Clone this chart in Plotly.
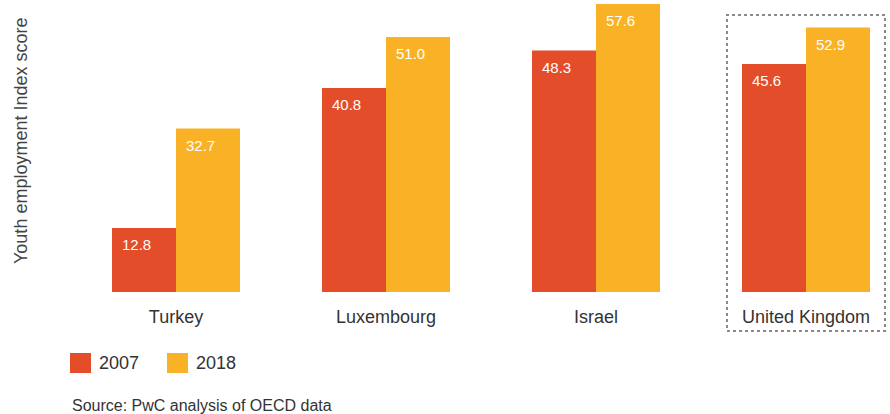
import plotly.graph_objects as go

# Youth employment index scores by country
countries = ["Turkey", "Luxembourg", "Israel", "United Kingdom"]
years = ["2007", "2018"]
score_2007 = [12.8, 40.8, 48.3, 45.6]
score_2018 = [32.7, 51.0, 57.6, 52.9]

RED = "#E34D2A"
ORANGE = "#F9B225"
FONT = "Liberation Sans, Arial, sans-serif"

W, H = 890, 414
L, R, T, B = 71, 0, 0, 122
PW, PH = W - L - R, H - T - B
UNIT = 210.0          # pixels per category
BAR_W = 64 / UNIT     # bar width in category units
X0 = -0.5
X1 = X0 + PW / UNIT
Y1 = 58.4

def px_x(p):
    return (p - L) / PW

def px_y(p):
    return (H - B - p) / PH

xs = list(range(len(countries)))

fig = go.Figure()
fig.add_trace(go.Bar(x=xs, y=score_2007, name=years[0], marker_color=RED,
                     width=BAR_W, offset=-BAR_W, marker_line_width=0))
fig.add_trace(go.Bar(x=xs, y=score_2018, name=years[1], marker_color=ORANGE,
                     width=BAR_W, offset=0, marker_line_width=0))

# value labels in the top-left corner of each bar
annotations = []
for i, (a, b) in enumerate(zip(score_2007, score_2018)):
    for left, v in ((i - BAR_W, a), (i, b)):
        annotations.append(dict(
            x=left, y=v, xref="x", yref="y", text=f"{v:.1f}",
            xanchor="left", yanchor="top", xshift=8, yshift=-6,
            showarrow=False, font=dict(family=FONT, size=15, color="white")))

# axis title
annotations.append(dict(
    x=px_x(21), y=px_y(141), xref="paper", yref="paper",
    text="Youth employment Index score", textangle=-90,
    showarrow=False, xanchor="center", yanchor="middle",
    font=dict(family=FONT, size=18, color="#444")))

# legend
shapes = []
legend_items = [(70, RED, years[0]), (167, ORANGE, years[1])]
for x_left, col, label in legend_items:
    shapes.append(dict(type="rect", xref="paper", yref="paper",
                       x0=px_x(x_left), x1=px_x(x_left + 21),
                       y0=px_y(373), y1=px_y(353),
                       fillcolor=col, line=dict(width=0)))
    annotations.append(dict(
        x=px_x(x_left + 27), y=px_y(363), xref="paper", yref="paper",
        text=label, showarrow=False, xanchor="left", yanchor="middle",
        font=dict(family=FONT, size=18, color="#333")))

# source note
annotations.append(dict(
    x=px_x(70), y=px_y(405), xref="paper", yref="paper",
    text="Source: PwC analysis of OECD data", showarrow=False,
    xanchor="left", yanchor="middle",
    font=dict(family=FONT, size=16, color="#333")))

# dotted highlight frame around the last country
shapes.append(dict(type="rect", xref="paper", yref="paper",
                   x0=px_x(727), x1=px_x(885), y0=px_y(331), y1=px_y(15),
                   line=dict(color="#8a8a8a", width=2, dash="dot"),
                   fillcolor="rgba(0,0,0,0)"))

fig.update_layout(
    width=W, height=H,
    margin=dict(l=L, r=R, t=T, b=B),
    paper_bgcolor="white", plot_bgcolor="white",
    barmode="overlay", showlegend=False,
    font=dict(family=FONT),
    xaxis=dict(range=[X0, X1], tickvals=xs, ticktext=countries,
               showgrid=False, zeroline=False, showline=False,
               ticks="outside", ticklen=8, tickcolor="rgba(0,0,0,0)",
               tickfont=dict(family=FONT, size=18, color="#333"),
               fixedrange=True),
    yaxis=dict(range=[0, Y1], visible=False, fixedrange=True),
    annotations=annotations, shapes=shapes,
)

fig.write_html("out.html")
